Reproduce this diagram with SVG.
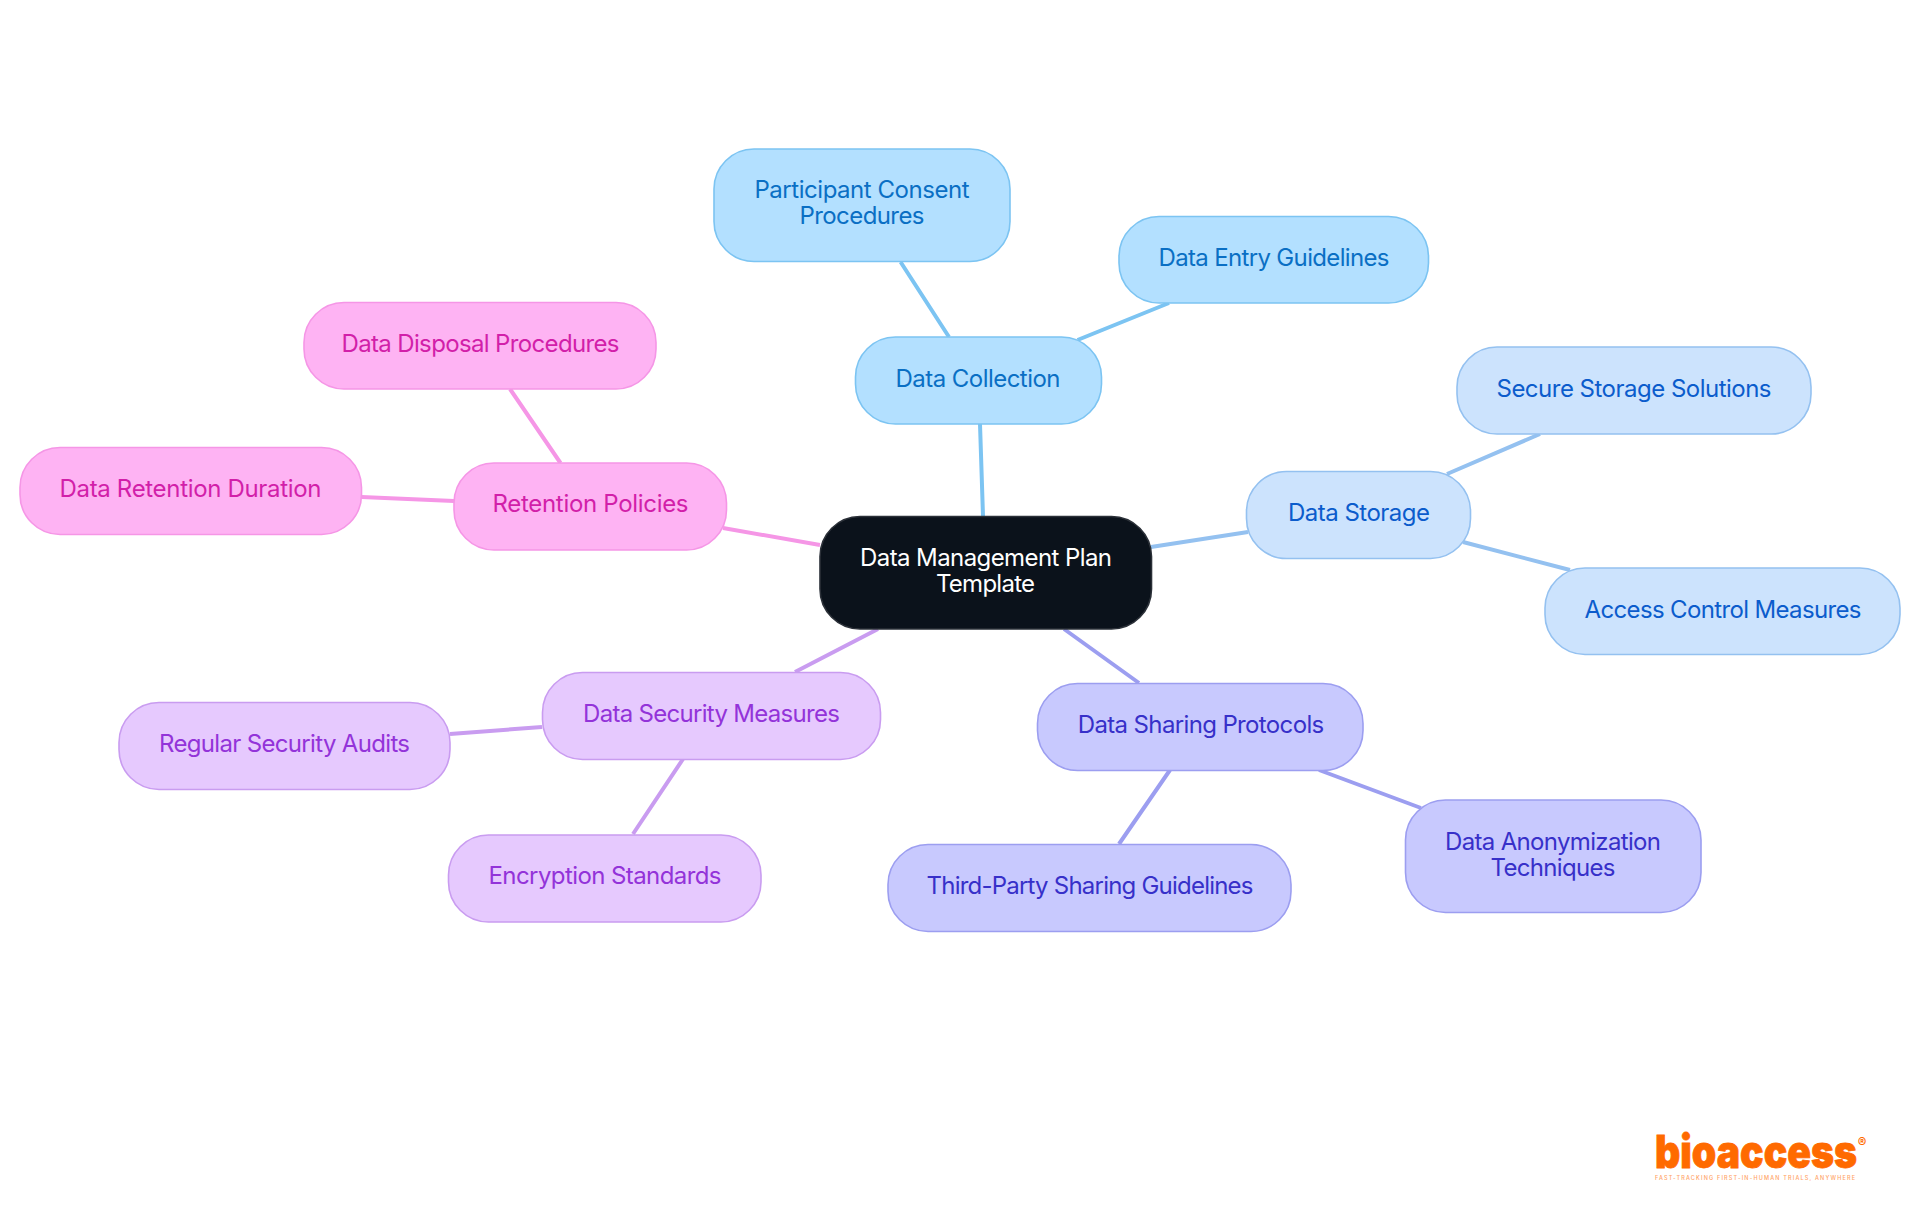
<svg xmlns="http://www.w3.org/2000/svg" width="1920" height="1215" viewBox="0 0 1920 1215">
<style>
text{font-family:"Inter","Noto Sans","Liberation Sans",sans-serif;font-size:24px;text-anchor:middle}
.e{fill:none;stroke-width:4;stroke-linecap:butt}
.n{stroke-width:1.6}
.c1 rect{fill:#b3e0ff;stroke:#7cc4f2}.c1 text{fill:#0a6fc4}.e1{stroke:#7cc4f2}
.c2 rect{fill:#cce3fd;stroke:#94c1f0}.c2 text{fill:#0b5ccc}.e2{stroke:#94c1f0}
.c3 rect{fill:#c8c9fe;stroke:#9c9ef0}.c3 text{fill:#3730c9}.e3{stroke:#9c9ef0}
.c4 rect{fill:#e6c9fe;stroke:#c99cf0}.c4 text{fill:#9333d9}.e4{stroke:#c99cf0}
.c5 rect{fill:#feb3f3;stroke:#f596e6}.c5 text{fill:#d21fa9}.e5{stroke:#f596e6}
.r rect{fill:#0b121b;stroke:#2b3038}.r text{fill:#fff}
</style>
<rect width="1920" height="1215" fill="#fff"/>
<g id="connectors">
<path class="e e1" d="M980 424L983 516M900.600 262L949 337M1169 303L1077.500 340"/>
<path class="e e2" d="M1151 547L1248 532M1447 474L1540 434M1463 542L1570 570"/>
<path class="e e3" d="M1064 629L1139 683M1319 770L1421 808M1170 770L1119 844"/>
<path class="e e4" d="M878 629L795 672M542 727L450 734M683 759L633 834"/>
<path class="e e5" d="M820 545L723 528M510 389L560.500 463M361.500 497L454 501"/>
</g>
<g id="root" class="r"><rect class="n" x="820" y="516.500" width="331.500" height="112.500" rx="40"/><text x="986" y="566" textLength="252">Data Management Plan</text><text x="985.500" y="592" textLength="99">Template</text></g>
<g id="data-collection" class="c1"><rect class="n" x="855.500" y="337" width="246" height="87" rx="40"/><text x="978" y="387" textLength="165">Data Collection</text></g>
<g id="participant-consent" class="c1"><rect class="n" x="714" y="149" width="296" height="112.500" rx="40"/><text x="862" y="198" textLength="215">Participant Consent</text><text x="862" y="224" textLength="125">Procedures</text></g>
<g id="data-entry" class="c1"><rect class="n" x="1119" y="216.500" width="309.500" height="86.500" rx="40"/><text x="1274" y="266" textLength="231">Data Entry Guidelines</text></g>
<g id="data-storage" class="c2"><rect class="n" x="1246.500" y="471.500" width="224" height="87" rx="40"/><text x="1359" y="521" textLength="142">Data Storage</text></g>
<g id="secure-storage" class="c2"><rect class="n" x="1457" y="347" width="354" height="87" rx="40"/><text x="1634" y="397" textLength="275">Secure Storage Solutions</text></g>
<g id="access-control" class="c2"><rect class="n" x="1545" y="568" width="355" height="86.500" rx="40"/><text x="1723" y="618" textLength="277">Access Control Measures</text></g>
<g id="data-sharing" class="c3"><rect class="n" x="1037.500" y="683.500" width="325.500" height="87" rx="40"/><text x="1201" y="733" textLength="246.500">Data Sharing Protocols</text></g>
<g id="data-anonymization" class="c3"><rect class="n" x="1405.500" y="800" width="295.500" height="112.500" rx="40"/><text x="1553" y="850" textLength="216">Data Anonymization</text><text x="1553" y="876" textLength="125">Techniques</text></g>
<g id="third-party" class="c3"><rect class="n" x="888" y="844.500" width="403" height="87" rx="40"/><text x="1090" y="894" textLength="327">Third-Party Sharing Guidelines</text></g>
<g id="data-security" class="c4"><rect class="n" x="542.500" y="672.500" width="338" height="87" rx="40"/><text x="711.500" y="722" textLength="257">Data Security Measures</text></g>
<g id="regular-audits" class="c4"><rect class="n" x="119" y="702.500" width="331" height="87" rx="40"/><text x="284.500" y="752" textLength="251">Regular Security Audits</text></g>
<g id="encryption" class="c4"><rect class="n" x="448.500" y="835" width="312.500" height="87" rx="40"/><text x="605" y="884" textLength="233">Encryption Standards</text></g>
<g id="retention-policies" class="c5"><rect class="n" x="454" y="463" width="272.500" height="87" rx="40"/><text x="590.500" y="512" textLength="196">Retention Policies</text></g>
<g id="data-disposal" class="c5"><rect class="n" x="304" y="302.500" width="352" height="86.500" rx="40"/><text x="480.500" y="352" textLength="278">Data Disposal Procedures</text></g>
<g id="data-retention" class="c5"><rect class="n" x="20" y="447.500" width="341.500" height="87" rx="40"/><text x="190.500" y="497" textLength="262">Data Retention Duration</text></g>
<g id="logo">
<text x="1756" y="1168" textLength="202" lengthAdjust="spacingAndGlyphs" style="font-size:45px;font-weight:900;fill:#ff6a00;stroke:#ff6a00;stroke-width:.8">bioaccess</text>
<text x="1862" y="1147" style="font-size:13px;font-weight:700;fill:#ff6a00">®</text>
<text x="1755" y="1179.500" textLength="200" style="font-size:5.500px;font-weight:500;fill:#ffa366">FAST-TRACKING FIRST-IN-HUMAN TRIALS, ANYWHERE</text>
</g>
</svg>
